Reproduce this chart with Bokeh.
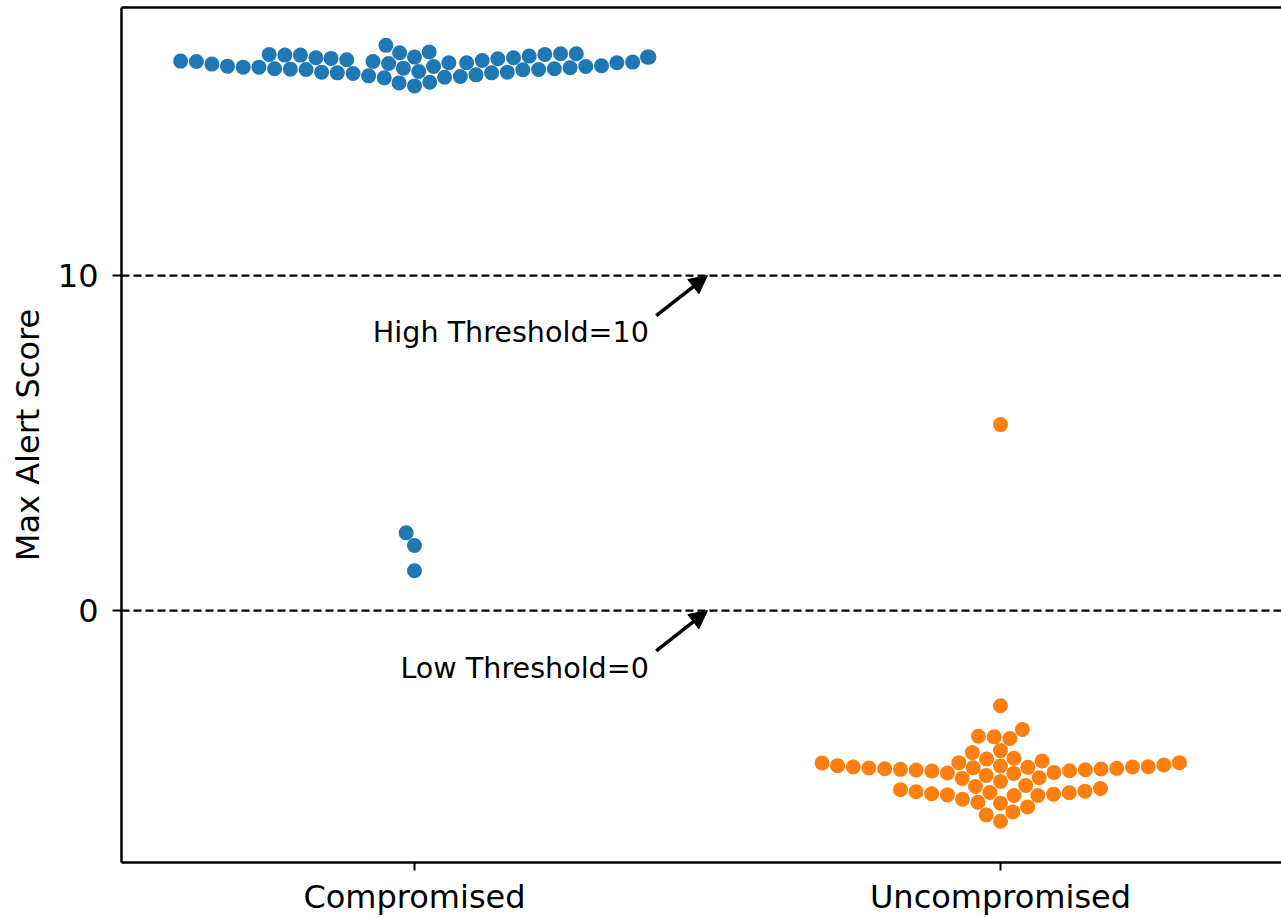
import numpy as np
from bokeh.plotting import figure
from bokeh.models import (Range1d, FixedTicker, LinearAxis, Span, Label, Arrow,
                          NormalHead, ColumnDataSource)
from bokeh.embed import file_html
from bokeh.resources import INLINE

# ---------------- data ----------------
categories = ["Compromised", "Uncompromised"]

compromised_scores = [
    16.52, 16.40, 16.35, 16.26, 16.24, 16.65, 16.22, 16.60, 16.17, 16.58,
    16.16, 16.58, 16.14, 16.48, 16.07, 16.47, 16.05, 16.42, 16.03, 16.37,
    15.96, 16.33, 15.90, 16.60, 16.20, 15.75, 16.55, 15.66, 16.15, 16.87,
    16.62, 16.22, 16.35, 16.35, 16.39, 16.44, 16.50, 16.52, 16.62, 16.67,
    15.77, 15.92, 15.94, 15.99, 16.05, 16.07, 16.09, 16.15, 16.17, 16.19,
    16.24, 16.25, 16.31, 16.39, 16.50, 16.52,
    2.32, 1.94, 1.19,
]

uncompromised_scores = [
    -4.49, -4.54, -4.63, -4.67, -4.70, -4.72, -4.74, -4.76, -4.79, -4.85,
    -5.35, -5.43, -5.47, -5.48, -5.63,
    -4.55, -4.99, -3.75, -3.77, -4.24, -4.41, -4.18, -4.68, -4.92, -4.66,
    -5.10, -5.25, -5.39, -5.72, -5.75, -6.10, -6.29, -3.82, -3.55, -4.43,
    -4.64, -4.86, -5.01, -5.22, -5.52, -5.86, -6.01,
    -4.83, -4.78, -4.75, -4.73, -4.71, -4.69, -4.67, -4.61, -4.54,
    -5.52, -5.50, -5.44, -5.41, -5.31,
    -2.84, 5.55,
]

high_threshold = 10
low_threshold = 0
y_ticks = [0, 10]
colors = ["#1f77b4", "#ff7f0e"]

# ---------------- geometry ----------------
W, H = 1281, 918
B_LEFT, B_RIGHT, B_TOP, B_BOTTOM = 121, 0, 7, 56
frame_w = W - B_LEFT - B_RIGHT
frame_h = H - B_TOP - B_BOTTOM
x_start = -0.5
px_per_x = 586.0
x_end = x_start + frame_w / px_per_x
y_start, y_end = -7.52, 18.0
px_per_y = frame_h / (y_end - y_start)

MARKER_D = 15.0  # marker diameter in px


def beeswarm(values, radius, half_width_px):
    """Seaborn-like beeswarm layout computed in pixel space."""
    vals = np.asarray(values, dtype=float)
    order = np.argsort(vals, kind="stable")
    ys = vals[order] * px_per_y
    placed = []
    for y in ys:
        neighbors = []
        for (xj, yj) in reversed(placed):
            if (y - yj) < 2 * radius:
                neighbors.append((xj, yj))
            else:
                break
        neighbors = neighbors[::-1]
        cands = [(0.0, y)]
        left_first = True
        for xj, yj in neighbors:
            dy = y - yj
            dx = np.sqrt(max((2 * radius) ** 2 - dy ** 2, 0.0)) * 1.05
            cl, cr = (xj - dx, y), (xj + dx, y)
            cands.extend([cl, cr] if left_first else [cr, cl])
            left_first = not left_first
        cands.sort(key=lambda c: abs(c[0]))
        chosen = cands[0]
        if neighbors:
            for c in cands:
                ok = all((c[0] - xj) ** 2 + (c[1] - yj) ** 2 >= (2 * radius) ** 2 - 1e-9
                         for xj, yj in neighbors)
                if ok:
                    chosen = c
                    break
        placed.append(chosen)
    offs = np.empty(len(vals))
    for k, idx in enumerate(order):
        offs[idx] = np.clip(placed[k][0], -half_width_px, half_width_px)
    return offs / px_per_x


p = figure(width=W, height=H, output_backend="svg", toolbar_location=None,
           x_range=Range1d(x_start, x_end), y_range=Range1d(y_start, y_end),
           min_border_left=B_LEFT, min_border_right=B_RIGHT,
           min_border_top=B_TOP, min_border_bottom=B_BOTTOM)
p.outline_line_color = None
p.xgrid.visible = False
p.ygrid.visible = False
p.background_fill_color = "white"
p.border_fill_color = "white"

for i, (cat, scores) in enumerate(zip(categories, [compromised_scores, uncompromised_scores])):
    offs = beeswarm(scores, MARKER_D / 2.0, 0.4 * px_per_x)
    src = ColumnDataSource(dict(x=i + offs, y=scores))
    p.scatter("x", "y", source=src, size=MARKER_D, marker="circle",
              fill_color=colors[i], line_color=None)

for thr in (high_threshold, low_threshold):
    p.add_layout(Span(location=thr, dimension="width", line_color="black",
                      line_width=2.2, line_dash="8 4"))

FONT = "DejaVu Sans"
for thr, name in ((high_threshold, "High"), (low_threshold, "Low")):
    p.add_layout(Label(x=0.4, y=thr - 1.7, text=f"{name} Threshold={thr}",
                       text_align="right", text_baseline="middle",
                       text_font=FONT, text_font_size="28.6px", text_color="black"))
    p.add_layout(Arrow(end=NormalHead(size=18, fill_color="black", line_color="black"),
                       x_start=0.4125, y_start=thr - 1.2, x_end=0.5, y_end=thr,
                       line_width=3.5, line_color="black"))

# axes
p.xaxis.ticker = FixedTicker(ticks=list(range(len(categories))))
p.xaxis.major_label_overrides = {i: c for i, c in enumerate(categories)}
p.yaxis.ticker = FixedTicker(ticks=y_ticks)
p.yaxis.axis_label = "Max Alert Score"
for ax in (p.xaxis[0], p.yaxis[0]):
    ax.axis_line_width = 2.5
    ax.axis_line_color = "black"
    ax.major_tick_line_width = 2
    ax.major_tick_line_color = "black"
    ax.major_tick_in = 0
    ax.minor_tick_line_color = None
    ax.major_label_text_font = FONT
    ax.major_label_text_font_size = "32px"
    ax.major_label_text_color = "black"
    ax.axis_label_text_font = FONT
    ax.axis_label_text_font_size = "32px"
    ax.axis_label_text_font_style = "normal"
    ax.axis_label_text_color = "black"
p.xaxis.major_tick_out = 8
p.yaxis.major_tick_out = 9
p.xaxis.major_label_standoff = 7
p.yaxis.major_label_standoff = 14
p.yaxis.axis_label_standoff = 8

top_axis = LinearAxis(ticker=FixedTicker(ticks=[]), major_label_text_font_size="0px",
                      major_tick_out=0, major_tick_in=0, minor_tick_line_color=None,
                      axis_line_width=2.5, axis_line_color="black", major_label_standoff=0)
p.add_layout(top_axis, "above")

open("out.html", "w").write(file_html(p, INLINE))
